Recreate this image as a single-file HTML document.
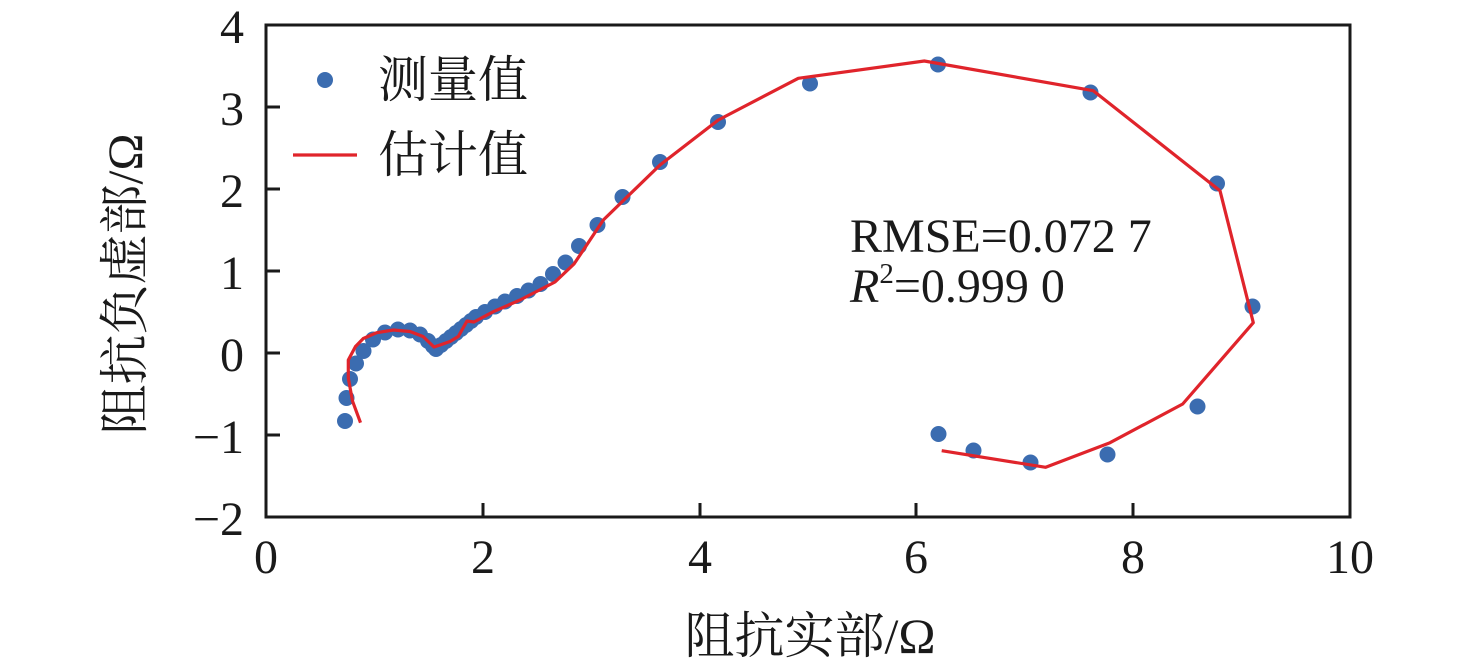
<!DOCTYPE html>
<html><head><meta charset="utf-8"><style>
html,body{margin:0;padding:0;background:#fff;}
svg{display:block;}
.t{font-family:"Liberation Serif","Noto Serif CJK SC",serif;fill:#1a1a1a;}
</style></head><body>
<svg width="1476" height="672" viewBox="0 0 1476 672" xmlns="http://www.w3.org/2000/svg">
<rect x="0" y="0" width="1476" height="672" fill="#fff"/>
<rect x="266" y="25" width="1084" height="492" fill="none" stroke="#1a1a1a" stroke-width="3"/>
<g stroke="#1a1a1a" stroke-width="3">
<line x1="266" y1="107" x2="280" y2="107"/>
<line x1="266" y1="189" x2="280" y2="189"/>
<line x1="266" y1="271" x2="280" y2="271"/>
<line x1="266" y1="353" x2="280" y2="353"/>
<line x1="266" y1="435" x2="280" y2="435"/>
<line x1="483" y1="517" x2="483" y2="503"/>
<line x1="700" y1="517" x2="700" y2="503"/>
<line x1="916" y1="517" x2="916" y2="503"/>
<line x1="1133" y1="517" x2="1133" y2="503"/>
</g>
<g class="t" font-size="48" text-anchor="end">
<text x="244" y="43">4</text>
<text x="244" y="125">3</text>
<text x="244" y="207">2</text>
<text x="244" y="289">1</text>
<text x="244" y="371">0</text>
<text x="244" y="453">−1</text>
<text x="244" y="535">−2</text>
</g>
<g class="t" font-size="48" text-anchor="middle">
<text x="266" y="573">0</text>
<text x="483" y="573">2</text>
<text x="700" y="573">4</text>
<text x="916" y="573">6</text>
<text x="1133" y="573">8</text>
<text x="1350" y="573">10</text>
</g>
<text class="t" x="810" y="636" font-size="50" text-anchor="middle" dominant-baseline="central">阻抗实部/Ω</text>
<text class="t" x="0" y="0" font-size="50" text-anchor="middle" dominant-baseline="central" transform="translate(125,284) rotate(-90)">阻抗负虚部/Ω</text>
<g fill="#3b6cb0">
<circle cx="345" cy="421" r="8"/>
<circle cx="346.5" cy="398" r="8"/>
<circle cx="350" cy="379" r="8"/>
<circle cx="356" cy="363.5" r="8"/>
<circle cx="363.5" cy="351" r="8"/>
<circle cx="373" cy="339.5" r="8"/>
<circle cx="385" cy="332.5" r="8"/>
<circle cx="398" cy="329.5" r="8"/>
<circle cx="410" cy="330.5" r="8"/>
<circle cx="420" cy="334.5" r="8"/>
<circle cx="428" cy="341" r="8"/>
<circle cx="433" cy="346" r="8"/>
<circle cx="436" cy="349" r="8"/>
<circle cx="441" cy="345" r="8"/>
<circle cx="446" cy="341" r="8"/>
<circle cx="451" cy="337" r="8"/>
<circle cx="456" cy="333" r="8"/>
<circle cx="461" cy="329" r="8"/>
<circle cx="466" cy="325" r="8"/>
<circle cx="471" cy="321" r="8"/>
<circle cx="476" cy="317" r="8"/>
<circle cx="485" cy="312" r="8"/>
<circle cx="495" cy="306.5" r="8"/>
<circle cx="505" cy="301.5" r="8"/>
<circle cx="517" cy="296" r="8"/>
<circle cx="528.5" cy="290.5" r="8"/>
<circle cx="540.5" cy="284" r="8"/>
<circle cx="553" cy="274" r="8"/>
<circle cx="565.5" cy="262.5" r="8"/>
<circle cx="579" cy="246" r="8"/>
<circle cx="597.5" cy="225" r="8"/>
<circle cx="622.5" cy="197" r="8"/>
<circle cx="660" cy="162" r="8"/>
<circle cx="718" cy="122" r="8"/>
<circle cx="810" cy="83.5" r="8"/>
<circle cx="938" cy="64.5" r="8"/>
<circle cx="1090.5" cy="92.5" r="8"/>
<circle cx="1217" cy="183.5" r="8"/>
<circle cx="1252.5" cy="306.5" r="8"/>
<circle cx="1197.5" cy="406.5" r="8"/>
<circle cx="1107.5" cy="454.5" r="8"/>
<circle cx="1030.5" cy="462.5" r="8"/>
<circle cx="973.5" cy="450.5" r="8"/>
<circle cx="938.5" cy="434" r="8"/>
</g>
<polyline fill="none" stroke="#e0242b" stroke-width="3.2" stroke-linejoin="round" points="360.5,422.7 352.5,401 348.3,378 348.3,360 355.5,346.5 363.3,338.5 376.7,332.7 393.3,330 410,331.5 423,336.5 434,347 440,345 450,341.5 458.3,336.5 467,321 474,322 493.3,311.7 520,300 555,282 574,264 586.7,245 603.3,220 660,165 718.3,120 798.3,78.3 924.3,61 1093.3,90.7 1220,190.7 1253.3,322.7 1182.7,404 1110,442.7 1045.7,467.3 941.7,450.7"/>
<circle cx="325" cy="80" r="8" fill="#3b6cb0"/>
<line x1="293" y1="155" x2="357" y2="155" stroke="#e0242b" stroke-width="3.2"/>
<text class="t" x="378" y="80" font-size="50" dominant-baseline="central">测量值</text>
<text class="t" x="378" y="155" font-size="50" dominant-baseline="central">估计值</text>
<text class="t" x="850" y="252" font-size="48">RMSE=0.072 7</text>
<text class="t" x="850" y="302" font-size="48"><tspan font-style="italic">R</tspan><tspan font-size="29" dy="-19">2</tspan><tspan dy="19">=0.999 0</tspan></text>
</svg>
</body></html>
